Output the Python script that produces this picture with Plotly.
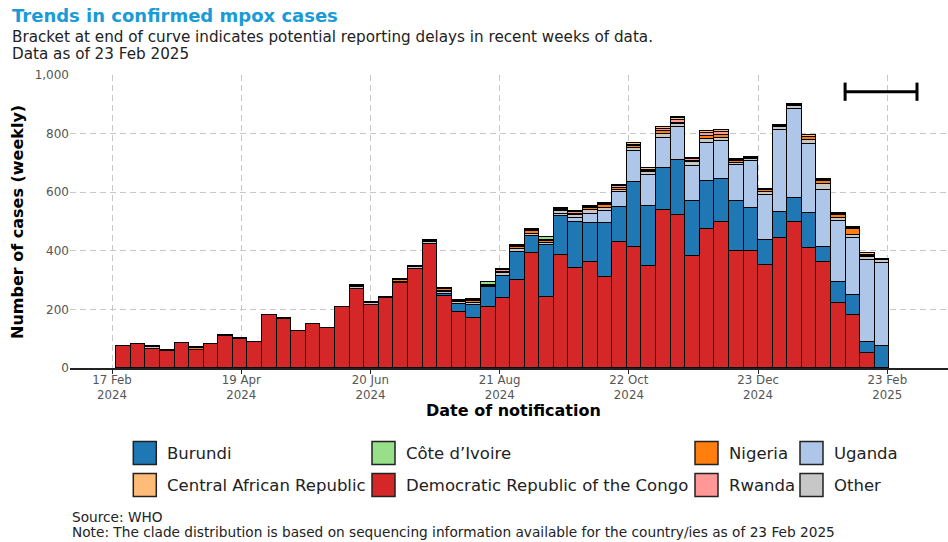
import plotly.graph_objects as go
import pandas as pd

# ---------------- data ----------------
week_start = pd.date_range("2024-02-19", periods=53, freq="7D")

drc = [74, 81, 66, 58, 85, 60, 81, 110, 100, 88, 180, 168, 126, 149, 135, 207,
       268, 216, 239, 289, 339, 424, 246, 190, 172, 207, 239, 301, 394, 241, 387,
       340, 361, 312, 431, 412, 348, 538, 522, 382, 473, 499, 400, 400, 352, 445,
       499, 411, 363, 223, 181, 50, 0]
burundi = [0, 0, 0, 0, 0, 0, 0, 0, 0, 0, 0, 0, 0, 0, 0, 0,
           0, 0, 0, 0, 0, 0, 8, 28, 43, 70, 76, 96, 56, 179, 131,
           158, 135, 183, 117, 222, 206, 144, 187, 187, 166, 145, 171, 145, 85, 89,
           81, 119, 51, 72, 67, 38, 76]
uganda = [0, 0, 0, 0, 0, 0, 0, 0, 0, 0, 0, 0, 0, 0, 0, 0,
          0, 0, 0, 0, 0, 0, 4, 0, 0, 0, 0, 0, 0, 0, 9,
          15, 30, 40, 51, 108, 105, 104, 115, 119, 130, 132, 122, 163, 152, 280,
          305, 235, 192, 207, 196, 280, 283]
other = [1, 1, 7, 2, 1, 2, 2, 3, 2, 1, 1, 2, 1, 1, 2, 2,
         8, 5, 4, 6, 6, 7, 5, 6, 8, 4, 8, 9, 9, 8, 10,
         8, 12, 12, 10, 8, 10, 14, 8, 14, 14, 10, 8, 6, 11, 7,
         8, 14, 22, 10, 10, 10, 8]
nigeria = [0, 0, 0, 0, 0, 5, 0, 0, 0, 0, 0, 0, 0, 0, 0, 0,
           3, 0, 0, 4, 0, 3, 5, 3, 4, 2, 6, 6, 7, 4, 3,
           6, 7, 9, 6, 8, 5, 9, 5, 5, 9, 10, 5, 4, 6, 5,
           4, 8, 9, 9, 20, 5, 3]
rwanda = [0, 0, 0, 0, 0, 0, 0, 0, 0, 0, 0, 0, 0, 0, 0, 0,
          0, 0, 0, 0, 0, 0, 0, 2, 4, 0, 5, 4, 4, 3, 3,
          4, 4, 4, 7, 4, 3, 8, 10, 5, 9, 10, 3, 0, 3, 0,
          0, 3, 4, 3, 4, 4, 0]
car = [0, 0, 2, 0, 0, 3, 0, 0, 0, 0, 0, 0, 0, 0, 0, 0,
       3, 3, 0, 4, 4, 3, 4, 3, 4, 2, 5, 4, 4, 3, 3,
       4, 4, 4, 4, 5, 4, 5, 6, 5, 9, 7, 3, 3, 3, 4,
       4, 5, 5, 4, 4, 4, 2]
cote_divoire = [0, 0, 0, 0, 0, 0, 0, 0, 0, 0, 0, 0, 0, 0, 0, 0,
                0, 0, 0, 0, 0, 0, 0, 0, 0, 10, 0, 0, 0, 10, 0,
                0, 0, 0, 0, 0, 0, 0, 5, 0, 0, 0, 0, 0, 0, 0,
                0, 0, 0, 0, 0, 0, 0]

tick_dates = ["2024-02-17", "2024-04-19", "2024-06-20", "2024-08-21",
              "2024-10-22", "2024-12-23", "2025-02-23"]
tick_labels = ["17 Feb<br>2024", "19 Apr<br>2024", "20 Jun<br>2024", "21 Aug<br>2024",
               "22 Oct<br>2024", "23 Dec<br>2024", "23 Feb<br>2025"]
y_ticks = [0, 200, 400, 600, 800, 1000]

bracket_dates = ["2025-02-02 18:00", "2025-03-09 06:00"]
bracket_level = [943, 943]

# stacking order bottom -> top
series = [
    ("Democratic Republic of the Congo", drc, "#d62728"),
    ("Burundi", burundi, "#1f77b4"),
    ("Uganda", uganda, "#aec7e8"),
    ("Other", other, "#c7c7c7"),
    ("Nigeria", nigeria, "#ff7f0e"),
    ("Rwanda", rwanda, "#ff9896"),
    ("Central African Republic", car, "#ffbb78"),
    ("Côte d’Ivoire", cote_divoire, "#98df8a"),
]
colors = {n: c for n, _, c in series}

# legend layout (column-major, as in reference)
legend_cols = [["Burundi", "Central African Republic"],
               ["Côte d’Ivoire", "Democratic Republic of the Congo"],
               ["Nigeria", "Rwanda"],
               ["Uganda", "Other"]]

FONT = "DejaVu Sans"
OFF = 0  # page body margin removed via post_script
W, H = 948, 542
L, R, T, B = 70, 0, 75, 174
PW, PH = W - L - R, H - T - B


def px(x):
    return (x - OFF - L) / PW


def py(y):
    return (H - B - (y - OFF)) / PH


week_ms = 7 * 24 * 3600 * 1000

fig = go.Figure()
for name, vals, col in series:
    fig.add_trace(go.Bar(
        x=week_start, y=vals, name=name,
        marker=dict(color=col, line=dict(color="black", width=1.2)),
        width=week_ms, offset=0, showlegend=False,
    ))

fig.add_trace(go.Scatter(
    x=bracket_dates, y=bracket_level, mode="lines+markers",
    line=dict(color="black", width=3),
    marker=dict(symbol="line-ns", size=13, line=dict(color="black", width=3)),
    showlegend=False, hoverinfo="skip",
))

annotations = []
shapes = []


def text(t, x, y, size, color="#222", xanchor="left", angle=0):
    annotations.append(dict(text=t, x=px(x), y=py(y), xref="paper", yref="paper",
                            xanchor=xanchor, yanchor="middle", showarrow=False,
                            textangle=angle, font=dict(family=FONT, size=size, color=color)))


# titles
text("<b>Trends in confirmed mpox cases</b>", 10, 15.5, 18, "#1a9ad6")
text("Bracket at end of curve indicates potential reporting delays in recent weeks of data.",
     10, 37.5, 15.2)
text("Data as of 23 Feb 2025", 10, 54.5, 15.2)
# axis titles
text("<b>Number of cases (weekly)</b>", 17, 222, 16, "black", "center", -90)
text("<b>Date of notification</b>", 513, 410, 16, "black", "center")
# source
text("Source: WHO", 70, 516.5, 13.7)
text("Note: The clade distribution is based on sequencing information available for the country/ies as of 23 Feb 2025",
     70, 531.5, 13.7)

# custom legend
col_x = [133.3, 372, 695, 800]
row_y = [453, 485]
for ci, names in enumerate(legend_cols):
    for ri, name in enumerate(names):
        x0 = col_x[ci]
        yc = row_y[ri]
        shapes.append(dict(type="rect", xref="paper", yref="paper",
                           x0=px(x0), x1=px(x0 + 23), y0=py(yc + 11.5), y1=py(yc - 11.5),
                           fillcolor=colors[name], line=dict(color="#222", width=1.5)))
        text(name, x0 + 31.5, yc, 16.5)

fig.update_layout(
    width=W, height=H,
    margin=dict(l=L, r=R, t=T, b=B),
    barmode="stack", bargap=0,
    plot_bgcolor="white", paper_bgcolor="white",
    font=dict(family=FONT, color="#555"),
    annotations=annotations, shapes=shapes,
    showlegend=False,
    xaxis=dict(
        type="date",
        range=["2024-01-27 20:00", "2025-03-24 03:00"],
        tickvals=tick_dates, ticktext=tick_labels,
        tickfont=dict(family=FONT, size=11.8, color="#555"),
        ticklabelstandoff=-4,
        showgrid=True, gridcolor="#c8c8c8", griddash="6px,4px", gridwidth=1.2,
        showline=True, linecolor="#222", linewidth=1.5,
        ticks="outside", ticklen=4, tickcolor="#222", tickwidth=1.2,
        zeroline=False,
    ),
    yaxis=dict(
        range=[0, 1000],
        tickvals=y_ticks, tickformat=",",
        tickfont=dict(family=FONT, size=12, color="#555"),
        showgrid=True, gridcolor="#c8c8c8", griddash="6px,4px", gridwidth=1.2,
        showline=False, zeroline=False, ticks="",
    ),
)

fig.write_html("out.html", config={"displayModeBar": False},
               post_script="document.body.style.margin='0';")
